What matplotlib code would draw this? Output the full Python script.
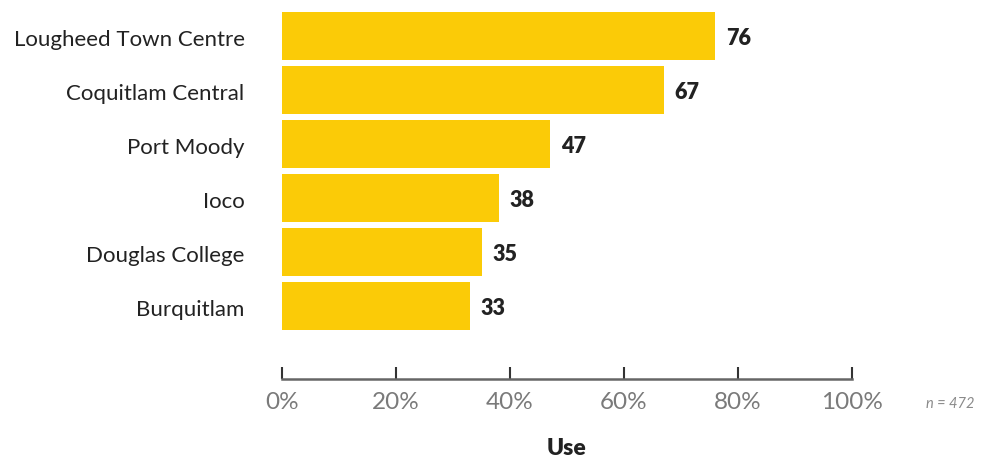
import matplotlib.pyplot as plt

plt.rcParams['font.family'] = ['Lato', 'DejaVu Sans']

stations = ['Lougheed Town Centre', 'Coquitlam Central', 'Port Moody',
            'Ioco', 'Douglas College', 'Burquitlam']
use_pct = [76, 67, 47, 38, 35, 33]
ticks = [0, 20, 40, 60, 80, 100]
tick_labels = ['0%', '20%', '40%', '60%', '80%', '100%']

W, H = 983, 461
fig = plt.figure(figsize=(W / 100, H / 100), dpi=100)
ax = fig.add_axes([282 / W, 1 - 379 / H, (852 - 282) / W, 379 / H])

ypos = list(range(len(stations)))
ax.barh(ypos, use_pct, height=0.9, color='#FBCB07')
for y, v in zip(ypos, use_pct):
    ax.text(v + 1.9, y + 0.04, str(v), va='center', ha='left', fontsize=15.5,
            fontweight='heavy', color='#222222')

ax.set_ylim(6.352, -0.667)
ax.set_xlim(0, 100)
ax.set_yticks([p + 0.04 for p in ypos])
ax.set_yticklabels(stations, fontsize=16, color='#222222')
ax.tick_params(axis='y', length=0, pad=27)

ax.set_xticks(ticks)
ax.set_xticklabels(tick_labels, fontsize=17.5, color='#7a7a7a')
ax.tick_params(axis='x', direction='in', length=9, width=1.5, color='#333333', pad=9)

for s in ['top', 'right', 'left']:
    ax.spines[s].set_visible(False)
ax.spines['bottom'].set_color('#666666')
ax.spines['bottom'].set_linewidth(1.8)

fig.text(950 / W, 1 - 404 / H, 'n = 472', ha='center', va='center',
         fontsize=10.5, style='italic', color='#8a8a8a')
fig.text(567 / W, 1 - 448 / H, 'Use', ha='center', va='center',
         fontsize=16.5, fontweight='heavy', color='#222222')

fig.savefig('out.png', dpi=100)
